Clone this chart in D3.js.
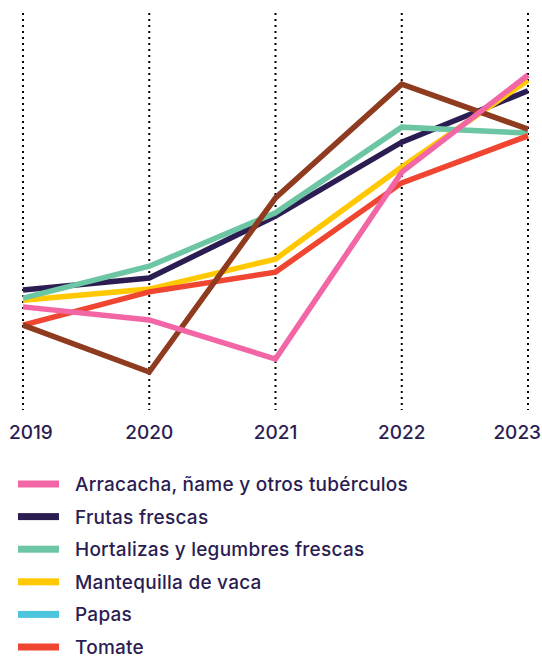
<!DOCTYPE html>
<html>
<head>
<meta charset="utf-8">
<script src="https://cdn.jsdelivr.net/npm/d3@7"></script>
<style>
  body { margin: 0; background: #fff; }
  text { font-family: Inter, "Noto Sans", sans-serif; fill: #2b1d52; }
</style>
</head>
<body>
<script>
const years = [2019, 2020, 2021, 2022, 2023];

// index values (no y axis shown)
const arracacha   = [25.6, 22.3, 12.4, 59.7, 84.3];
const frutas      = [29.9, 32.9, 48.6, 67.3, 80.3];
const hortalizas  = [27.8, 35.9, 49.4, 71.1, 69.6];
const mantequilla = [27.3, 30.1, 37.7, 61.0, 83.0];
const papas       = [null, null, null, null, null];
const tomate      = [21.0, 29.4, 34.4, 57.0, 68.9];
const otro        = [21.0, 9.1, 53.2, 82.0, 70.6];

const legendItems = [
  {name: "Arracacha, ñame y otros tubérculos", color: "#f266a6"},
  {name: "Frutas frescas", color: "#2b1d52"},
  {name: "Hortalizas y legumbres frescas", color: "#6cc6a4"},
  {name: "Mantequilla de vaca", color: "#ffc800"},
  {name: "Papas", color: "#4dc5dc"},
  {name: "Tomate", color: "#f04530"}
];

// drawing order, bottom to top
const series = [
  {values: papas, color: "#4dc5dc"},
  {values: frutas, color: "#2b1d52"},
  {values: mantequilla, color: "#ffc800"},
  {values: hortalizas, color: "#6cc6a4"},
  {values: tomate, color: "#f04530"},
  {values: otro, color: "#8f3b1f"},
  {values: arracacha, color: "#f266a6"}
];

const width = 542, height = 656;

const svg = d3.select("body")
  .append("svg")
  .attr("width", width)
  .attr("height", height);

let x = d3.scalePoint()
  .domain(years)
  .range([23, 528]);

let y = d3.scaleLinear()
  .domain([0, 100])
  .range([408, 13]);

// dotted year lines
svg.append("g")
  .selectAll("line")
  .data(years)
  .join("line")
  .attr("x1", d => x(d))
  .attr("x2", d => x(d))
  .attr("y1", y(100))
  .attr("y2", y(0) + 2)
  .attr("stroke", "#000")
  .attr("stroke-width", 2)
  .attr("stroke-dasharray", "2,4");

// year labels
svg.append("g")
  .selectAll("text")
  .data(years)
  .join("text")
  .attr("x", (d, i) => i === 0 ? x(d) - 14 : i === years.length - 1 ? x(d) + 13 : x(d))
  .attr("y", 439)
  .attr("text-anchor", (d, i) => i === 0 ? "start" : i === years.length - 1 ? "end" : "middle")
  .attr("font-size", 19)
  .attr("font-weight", 500)
  .text(d => d);

const line = d3.line()
  .defined(d => d != null)
  .x((d, i) => x(years[i]))
  .y(d => y(d));

svg.append("g")
  .selectAll("path")
  .data(series)
  .join("path")
  .attr("fill", "none")
  .attr("stroke", d => d.color)
  .attr("stroke-width", 5.5)
  .attr("stroke-linejoin", "miter")
  .attr("d", d => line(d.values));

// legend
const legend = svg.append("g")
  .selectAll("g")
  .data(legendItems)
  .join("g")
  .attr("transform", (d, i) => `translate(18, ${484 + i * 32.6})`);

legend.append("rect")
  .attr("x", 0)
  .attr("y", -3.5)
  .attr("width", 41)
  .attr("height", 7)
  .attr("fill", d => d.color);

legend.append("text")
  .attr("x", 57)
  .attr("y", 7)
  .attr("font-size", 19)
  .attr("font-weight", 500)
  .attr("letter-spacing", 0.25)
  .text(d => d.name);
</script>
</body>
</html>
